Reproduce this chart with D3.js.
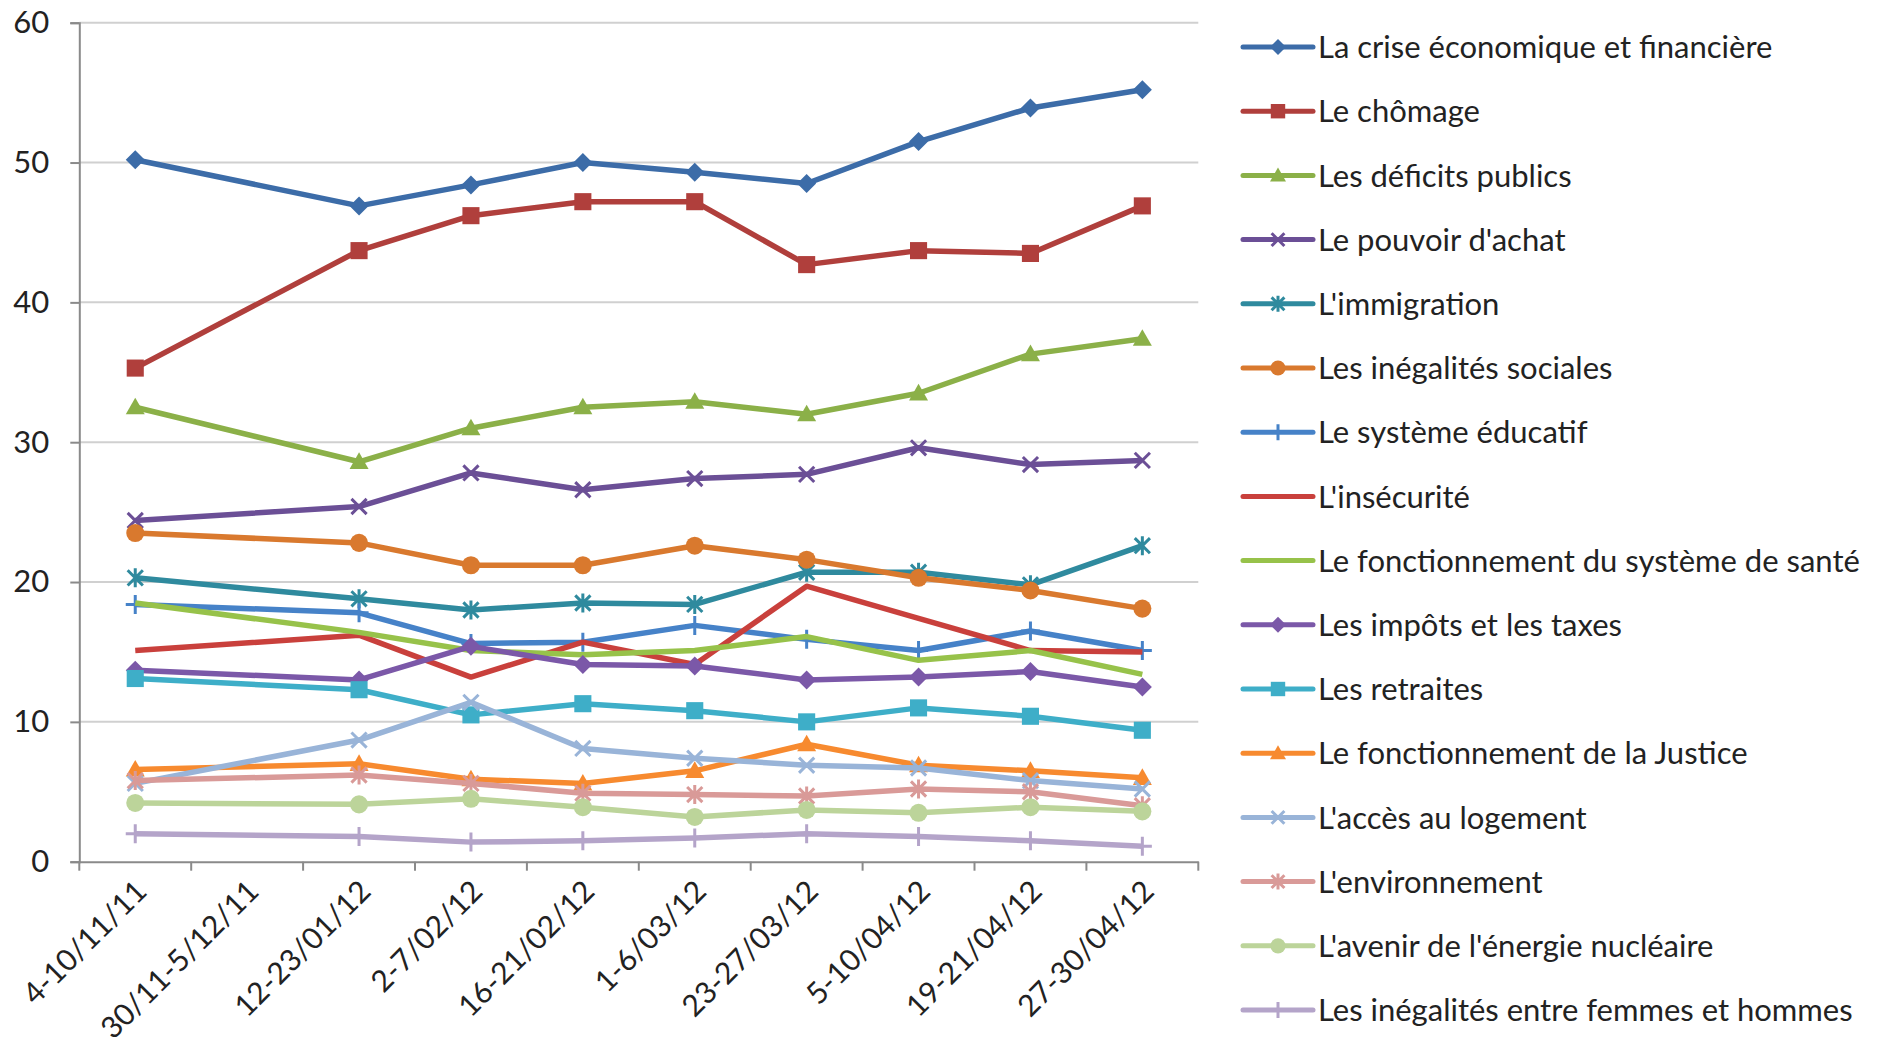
<!DOCTYPE html>
<html><head><meta charset="utf-8">
<script src="https://cdn.jsdelivr.net/npm/d3@7/dist/d3.min.js"></script>
<style>
html,body{margin:0;padding:0;background:#fff;}
svg{display:block;font-family:Lato,"Open Sans",sans-serif;}
</style></head>
<body>
<svg id="c" width="1883" height="1049"></svg>
<script>
const categories = ["4-10/11/11","30/11-5/12/11","12-23/01/12","2-7/02/12","16-21/02/12","1-6/03/12","23-27/03/12","5-10/04/12","19-21/04/12","27-30/04/12"];
const yTicks = [0,10,20,30,40,50,60];

const seriesNames = [
  "La crise économique et financière",
  "Le chômage",
  "Les déficits publics",
  "Le pouvoir d'achat",
  "L'immigration",
  "Les inégalités sociales",
  "Le système éducatif",
  "L'insécurité",
  "Le fonctionnement du système de santé",
  "Les impôts et les taxes",
  "Les retraites",
  "Le fonctionnement de la Justice",
  "L'accès au logement",
  "L'environnement",
  "L'avenir de l'énergie nucléaire",
  "Les inégalités entre femmes et hommes"
];
const crise        = [50.2, null, 46.9, 48.4, 50.0, 49.3, 48.5, 51.5, 53.9, 55.2];
const chomage      = [35.3, null, 43.7, 46.2, 47.2, 47.2, 42.7, 43.7, 43.5, 46.9];
const deficits     = [32.5, null, 28.6, 31.0, 32.5, 32.9, 32.0, 33.5, 36.3, 37.4];
const pouvoir      = [24.4, null, 25.4, 27.8, 26.6, 27.4, 27.7, 29.6, 28.4, 28.7];
const immigration  = [20.3, null, 18.8, 18.0, 18.5, 18.4, 20.7, 20.7, 19.8, 22.6];
const inegalites   = [23.5, null, 22.8, 21.2, 21.2, 22.6, 21.6, 20.3, 19.4, 18.1];
const educatif     = [18.4, null, 17.8, 15.6, 15.7, 16.9, 15.9, 15.1, 16.5, 15.1];
const insecurite   = [15.1, null, 16.2, 13.2, 15.7, 14.1, 19.7, 17.4, 15.1, 15.0];
const sante        = [18.5, null, 16.4, 15.1, 14.8, 15.1, 16.1, 14.4, 15.1, 13.4];
const impots       = [13.7, null, 13.0, 15.4, 14.1, 14.0, 13.0, 13.2, 13.6, 12.5];
const retraites    = [13.1, null, 12.3, 10.5, 11.3, 10.8, 10.0, 11.0, 10.4, 9.4];
const justice      = [6.6, null, 7.0, 5.9, 5.6, 6.5, 8.4, 6.9, 6.5, 6.0];
const logement     = [5.6, null, 8.7, 11.4, 8.1, 7.4, 6.9, 6.7, 5.8, 5.2];
const environnement= [5.8, null, 6.2, 5.6, 4.9, 4.8, 4.7, 5.2, 5.0, 4.0];
const nucleaire    = [4.2, null, 4.1, 4.5, 3.9, 3.2, 3.7, 3.5, 3.9, 3.6];
const femmes       = [2.0, null, 1.8, 1.4, 1.5, 1.7, 2.0, 1.8, 1.5, 1.1];

const seriesValues = [crise, chomage, deficits, pouvoir, immigration, inegalites, educatif, insecurite, sante, impots, retraites, justice, logement, environnement, nucleaire, femmes];
const colors = ["#3c6ca8","#b03f3c","#8bb048","#6b4f96","#2f8a9e","#d9792e","#4682c8","#c9403c","#97c24a","#7b58a8","#3eaec8","#f78a2f","#99b4d8","#d99a98","#bcd49a","#b4a4c9"];
const markers = ["diamond","square","triangle","x","asterisk","circle","plus","none","none","diamond","square","triangle","x","asterisk","circle","plus"];

const svg = d3.select("#c");
const M = {left:79.3, right:1198.3, top:22.7, bottom:861.7};
const x = d3.scaleBand().domain(categories).range([M.left, M.right]).paddingInner(0).paddingOuter(0);
const y = d3.scaleLinear().domain([0,60]).range([M.bottom, M.top]);

// gridlines
svg.append("g").selectAll("line").data(yTicks.filter(d=>d>0)).join("line")
  .attr("x1", M.left).attr("x2", M.right)
  .attr("y1", d=>y(d)).attr("y2", d=>y(d))
  .attr("stroke","#d0d0d0").attr("stroke-width",2);

// y axis
const yAxis = svg.append("g").attr("transform",`translate(${M.left},0)`)
  .call(d3.axisLeft(y).tickValues(yTicks).tickSize(9).tickPadding(21));
yAxis.select(".domain").attr("stroke","#8a8a8a").attr("stroke-width",2);
yAxis.selectAll(".tick line").attr("stroke","#8a8a8a").attr("stroke-width",2);
yAxis.selectAll("text").attr("font-size",31).attr("fill","#222").attr("font-family","Lato");

// x axis
const xAxis = svg.append("g").attr("transform",`translate(0,${M.bottom})`)
  .call(d3.axisBottom(x).tickSize(0).tickFormat(""));
xAxis.select(".domain").attr("stroke","#8a8a8a").attr("stroke-width",2);
// boundary ticks
const bounds = categories.map(c=>x(c)).concat([M.right]);
svg.append("g").selectAll("line").data(bounds).join("line")
  .attr("x1",d=>d).attr("x2",d=>d).attr("y1",M.bottom).attr("y2",M.bottom+9)
  .attr("stroke","#8a8a8a").attr("stroke-width",2);
// labels
svg.append("g").selectAll("text").data(categories).join("text")
  .attr("transform", d=>`translate(${x(d)+x.bandwidth()/2+6},${M.bottom+24}) rotate(-45)`)
  .attr("text-anchor","end").attr("dy","0.35em")
  .attr("font-size",30).attr("fill","#222").text(d=>d);

function markerPath(type, s){
  switch(type){
    case "diamond": return `M0,${-s}L${s},0L0,${s}L${-s},0Z`;
    case "square": return `M${-s*0.9},${-s*0.9}H${s*0.9}V${s*0.9}H${-s*0.9}Z`;
    case "triangle": return `M0,${-s}L${s},${s*0.75}L${-s},${s*0.75}Z`;
    case "x": return `M${-s*0.8},${-s*0.8}L${s*0.8},${s*0.8}M${s*0.8},${-s*0.8}L${-s*0.8},${s*0.8}`;
    case "asterisk": return `M${-s*0.8},${-s*0.8}L${s*0.8},${s*0.8}M${s*0.8},${-s*0.8}L${-s*0.8},${s*0.8}M0,${-s}L0,${s}`;
    case "plus": return `M0,${-s}L0,${s}M${-s},0L${s},0`;
  }
  return "";
}
function drawMarker(g, type, color, cx, cy, s){
  if(type==="none") return;
  if(type==="circle"){
    g.append("circle").attr("cx",cx).attr("cy",cy).attr("r",s*0.95).attr("fill",color);
  } else if(type==="x"||type==="asterisk"||type==="plus"){
    g.append("path").attr("d",markerPath(type,s)).attr("transform",`translate(${cx},${cy})`)
      .attr("stroke",color).attr("stroke-width",3).attr("fill","none");
  } else {
    g.append("path").attr("d",markerPath(type,s)).attr("transform",`translate(${cx},${cy})`)
      .attr("fill",color);
  }
}

const line = d3.line().defined(d=>d.v!=null).x(d=>x(d.c)+x.bandwidth()/2).y(d=>y(d.v));
const plot = svg.append("g");
seriesValues.forEach((vals,i)=>{
  const pts = vals.map((v,j)=>({c:categories[j], v})).filter(d=>d.v!=null);
  const g = plot.append("g");
  g.append("path").attr("d", line(pts)).attr("fill","none")
    .attr("stroke",colors[i]).attr("stroke-width",5.5).attr("stroke-linejoin","round");
  pts.forEach(p=>drawMarker(g, markers[i], colors[i], x(p.c)+x.bandwidth()/2, y(p.v), 9.5));
});

// legend
const leg = svg.append("g");
seriesNames.forEach((n,i)=>{
  const ly = 47 + i*64.2;
  const g = leg.append("g");
  g.append("line").attr("x1",1243).attr("x2",1313).attr("y1",ly).attr("y2",ly)
    .attr("stroke",colors[i]).attr("stroke-width",5).attr("stroke-linecap","round");
  drawMarker(g, markers[i], colors[i], 1278, ly, 8);
  g.append("text").attr("x",1318).attr("y",ly).attr("dy","0.36em")
    .attr("font-size",31).attr("fill","#222").text(n);
});
</script>
</body></html>
